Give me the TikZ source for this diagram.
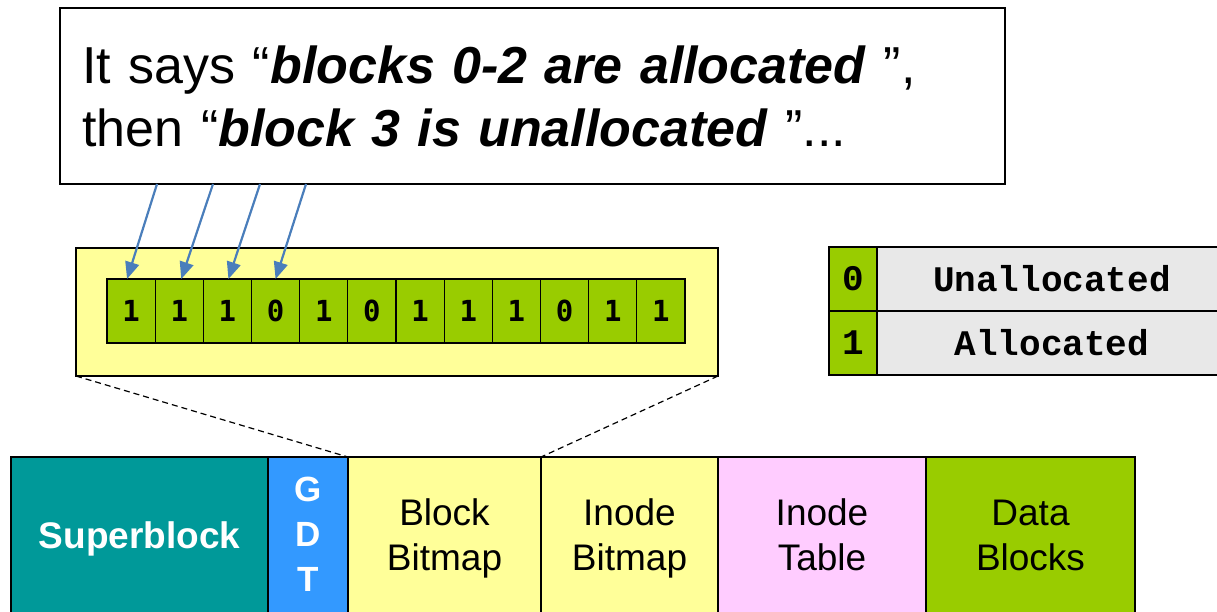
\documentclass[tikz,border=0pt]{standalone}
\usepackage{fontspec}
\setmainfont{Liberation Sans}
\newfontfamily\monob{Liberation Mono}
\newfontfamily\bitfont{DejaVu Sans Mono}
\usetikzlibrary{arrows.meta}
\definecolor{teal1}{HTML}{009999}
\definecolor{gdtblue}{HTML}{3399FF}
\definecolor{paleyellow}{HTML}{FFFF99}
\definecolor{palepink}{HTML}{FFCCFF}
\definecolor{lime}{HTML}{99CC00}
\definecolor{legendgray}{HTML}{E8E8E8}
\definecolor{arrowblue}{HTML}{4A7EBB}
\tikzset{
  box/.style={draw=black, line width=1.2pt, inner sep=0pt, outer sep=0pt, anchor=north west},
  region/.style={box, minimum height=170pt},
  regiontext/.style={align=center, inner sep=0pt, font=\fontsize{37}{45}\selectfont},
  bitcell/.style={box, fill=lime, minimum width=48.17pt, minimum height=64pt,
                  font=\bitfont\bfseries\fontsize{29}{29}\selectfont},
  legtxt/.style={box, font=\monob\bfseries\fontsize{36}{36}\selectfont},
  pointer/.style={draw=arrowblue, line width=2.2pt, -{Triangle[length=17pt,width=14pt]}},
  guide/.style={line width=1.2pt, dash pattern=on 6pt off 4pt}
}
\begin{document}
\begin{tikzpicture}[x=1pt, y=-1pt]
  \useasboundingbox (0,0) rectangle (1217,611);
  \clip (0,0) rectangle (1217,611);

  % speech box
  \node[box, fill=white, minimum width=945pt, minimum height=176pt,
        text width=920pt, align=left, font=\fontsize{52}{63}\selectfont]
    (callout) at (60,8)
    {\hspace*{10pt}It says ``\textbf{\textit{blocks 0-2 are allocated}} '',\\
     \hspace*{10pt}then ``\textbf{\textit{block 3 is unallocated}} ''...};

  % zoomed block bitmap
  \node[box, fill=paleyellow, minimum width=642pt, minimum height=128pt] (bitbox) at (76,248) {};
  \foreach \b [count=\i from 0] in {1,1,1,0,1,0,1,1,1,0,1,1}
    \node[bitcell] (c\i) at ({107+\i*48.17},279) {\b};

  % pointers from the text to the first four bits
  \draw[pointer] ([xshift=97pt]callout.south west) -- ([xshift=-4pt]c0.north);
  \draw[pointer] ([xshift=153pt]callout.south west) -- ([xshift=2pt]c1.north);
  \draw[pointer] ([xshift=200pt]callout.south west) -- ([xshift=1pt]c2.north);
  \draw[pointer] ([xshift=246pt]callout.south west) -- ([xshift=0pt]c3.north);

  % legend
  \node[legtxt, fill=lime, minimum width=48pt, minimum height=64pt] (l0) at (829,247) {0};
  \node[legtxt, fill=lime, minimum width=48pt, minimum height=64pt] (l1) at (829,311) {1};
  \node[legtxt, fill=legendgray, minimum width=360pt, minimum height=64pt] (u0) at (877,247) {};
  \node[legtxt, fill=legendgray, minimum width=360pt, minimum height=64pt] (u1) at (877,311) {};
  \node[font=\monob\bfseries\fontsize{36}{36}\selectfont] (t0) at (1052,279) {Unallocated};
  \node[font=\monob\bfseries\fontsize{36}{36}\selectfont] (t1) at (1052,343) {Allocated};

  % block group layout
  \node[region, fill=teal1, minimum width=257pt] (sb) at (11,457) {};
  \node[region, fill=gdtblue, minimum width=80pt] (gdt) at (268,457) {};
  \node[region, fill=paleyellow, minimum width=193pt] (bb) at (348,457) {};
  \node[region, fill=paleyellow, minimum width=177pt] (ib) at (541,457) {};
  \node[region, fill=palepink, minimum width=208pt] (it) at (718,457) {};
  \node[region, fill=lime, minimum width=209pt] (db) at (926,457) {};

  \node[regiontext, text=white, font=\bfseries\fontsize{37}{45}\selectfont]
    (sbt) at ([yshift=3pt]sb.center) {Superblock};
  \node[regiontext, text=white, font=\bfseries\fontsize{35}{45}\selectfont]
    (gdtt) at ([yshift=5pt]gdt.center) {\strut G\\\strut D\\\strut T};
  \node[regiontext] (bbt) at ([yshift=3pt]bb.center) {\strut Block\\\strut Bitmap};
  \node[regiontext] (ibt) at ([yshift=3pt]ib.center) {\strut Inode\\\strut Bitmap};
  \node[regiontext] (itt) at ([yshift=3pt]it.center) {\strut Inode\\\strut Table};
  \node[regiontext] (dbt) at ([yshift=3pt]db.center) {\strut Data\\\strut Blocks};

  % zoom guides
  \draw[guide] (bitbox.south west) -- (bb.north west);
  \draw[guide] (bitbox.south east) -- (bb.north east);
\end{tikzpicture}
\end{document}
